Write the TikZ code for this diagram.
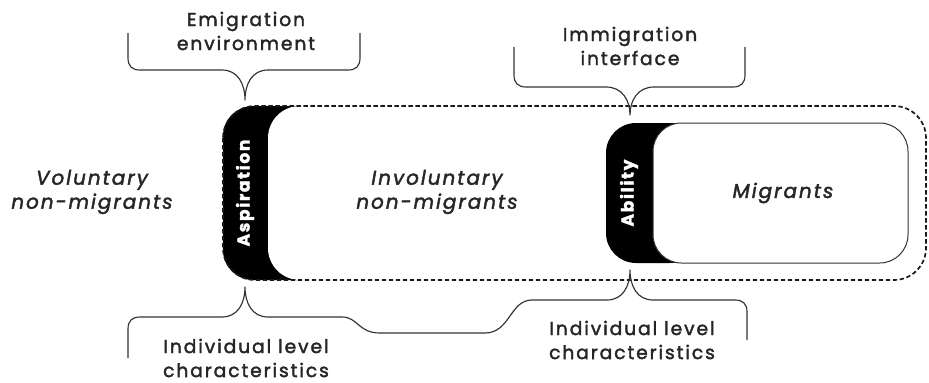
\documentclass[tikz,border=0pt]{standalone}
\usepackage{fontspec}
\setmainfont{Poppins}[LetterSpace=10, FakeBold=2]
\usepackage{tikz}
\usetikzlibrary{positioning}

\begin{document}
\begin{tikzpicture}[
    x=0.3mm, y=-0.3mm,
    % Styles
    txt/.style={font=\fontsize{16}{20.5}\selectfont, text=black!85,
        align=center, inner sep=0pt},
    grp/.style={txt, font=\fontsize{17}{20.5}\selectfont\itshape},
    bar/.style={rotate=90, text=white, inner sep=0pt,
        font=\fontsize{14.5}{18}\selectfont\bfseries},
    brace/.style={draw=black!80, line width=0.35mm, line join=round},
    field/.style={draw=black!90, dash pattern=on 1.3mm off 0.8mm,
        line width=0.5mm},
]
\useasboundingbox (0,0) rectangle (929,382);

% ===== Boxes =====
\fill[black, rounded corners=9mm] (223,106) rectangle (330,280);
\fill[white, rounded corners=9.6mm] (268,106) rectangle (420,280);
\fill[black, rounded corners=9mm] (606,123) rectangle (700,263);
\filldraw[fill=white, draw=black!80, line width=0.3mm, rounded corners=8.5mm]
    (653,123) rectangle (908,263);
\draw[field, rounded corners=9.6mm] (223,106) rectangle (926,280);

% ===== Labels =====
\node[bar] (asp) at (245,193) {Aspiration};
\node[bar] (abl) at (629,193) {Ability};
\node[grp] (invol) at (437,192) {Involuntary\\non-migrants};
\node[grp] (mig) at (783,193) {Migrants};
\node[grp] (vol) at (92,192) {Voluntary\\non-migrants};

\node[txt] (emi) at (246,31) {Emigration\\environment};
\node[txt] (imm) at (630,46) {Immigration\\interface};
\node[txt] (indl) at (246,358) {Individual level\\characteristics};
\node[txt] (indr) at (632,340) {Individual level\\characteristics};

% ===== Braces =====
% emigration environment -> aspiration
\draw[brace] (128,33) -- (128,58) .. controls (128,66) and (132,70) .. (140,70)
    -- (222,70) .. controls (238,70) and (245,84) .. (245,100)
    .. controls (245,84) and (252,70) .. (268,70)
    -- (348,70) .. controls (356,70) and (360,66) .. (360,58) -- (360,33);
% immigration interface -> ability
\draw[brace] (514,47) -- (514,75) .. controls (514,83) and (518,87) .. (526,87)
    -- (606,87) .. controls (622,87) and (630,100) .. (630,115)
    .. controls (630,100) and (638,87) .. (654,87)
    -- (733,87) .. controls (741,87) and (745,83) .. (745,75) -- (745,47);
% individual level characteristics -> aspiration and ability
\draw[brace] (128,358) -- (128,329) .. controls (128,321) and (132,317) .. (140,317)
    -- (222,317) .. controls (238,317) and (245,303) .. (245,287)
    .. controls (245,303) and (252,317) .. (268,317)
    -- (342,317) .. controls (358,317) and (358,333) .. (380,333)
    -- (485,333) .. controls (510,333) and (510,300) .. (532,300)
    -- (607,300) .. controls (623,300) and (630,286) .. (630,270)
    .. controls (630,286) and (637,300) .. (653,300)
    -- (735,300) .. controls (743,300) and (747,304) .. (747,312) -- (747,340);

\end{tikzpicture}
\end{document}
